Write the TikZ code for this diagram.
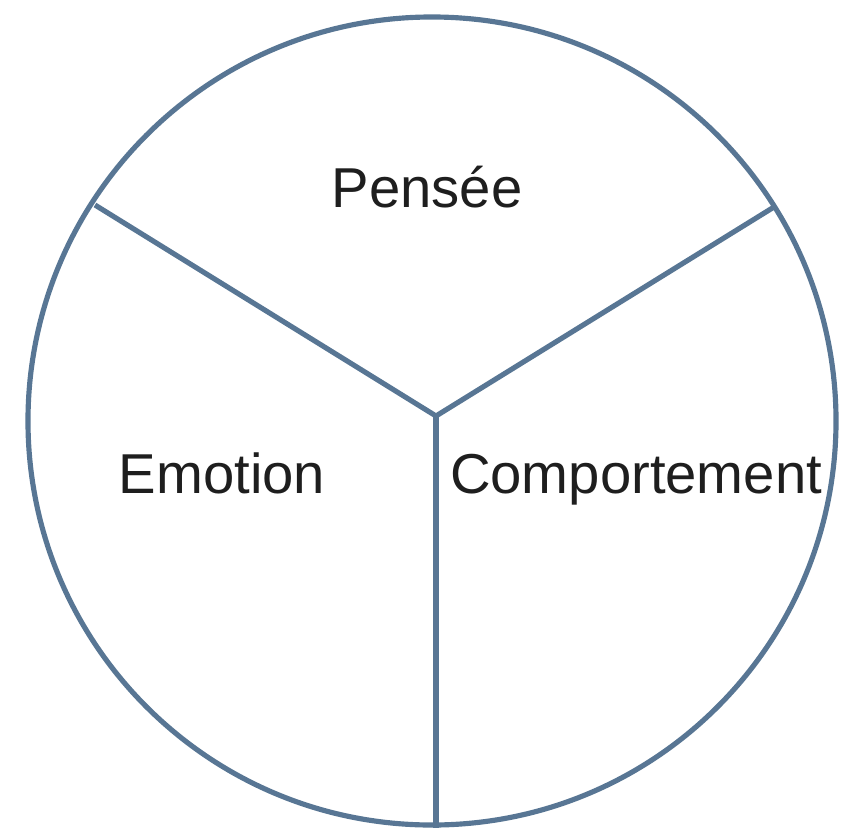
\documentclass[tikz,border=0pt]{standalone}
\usepackage{fontspec}
\setmainfont{Liberation Sans}
\definecolor{rim}{RGB}{88,118,148}
\definecolor{ink}{RGB}{30,30,30}

\begin{document}
\begin{tikzpicture}[
  x=0.03cm,y=-0.03cm,
  rimline/.style={rim,line width=4.4pt},
  word/.style={anchor=base,inner sep=0pt,text=ink,font=\fontsize{48}{56}\selectfont}
]
  \useasboundingbox (0,0) rectangle (843,838);
  \draw[rimline] (432,421) circle[radius=12.12cm];
  \coordinate (hub) at (436,416);
  \coordinate (ul) at (95,205);
  \coordinate (ur) at (774,207);
  \coordinate (bot) at (436,828);
  \draw[rimline,line join=round] (ul) -- (hub) -- (ur);
  \draw[rimline] (hub) -- (bot);
  \node[word] (pensee) at (427,207) {Pensée};
  \node[word] (emotion) at (222,493) {Emotion};
  \node[word] (comport) at (636,493) {Comportement};
\end{tikzpicture}
\end{document}
